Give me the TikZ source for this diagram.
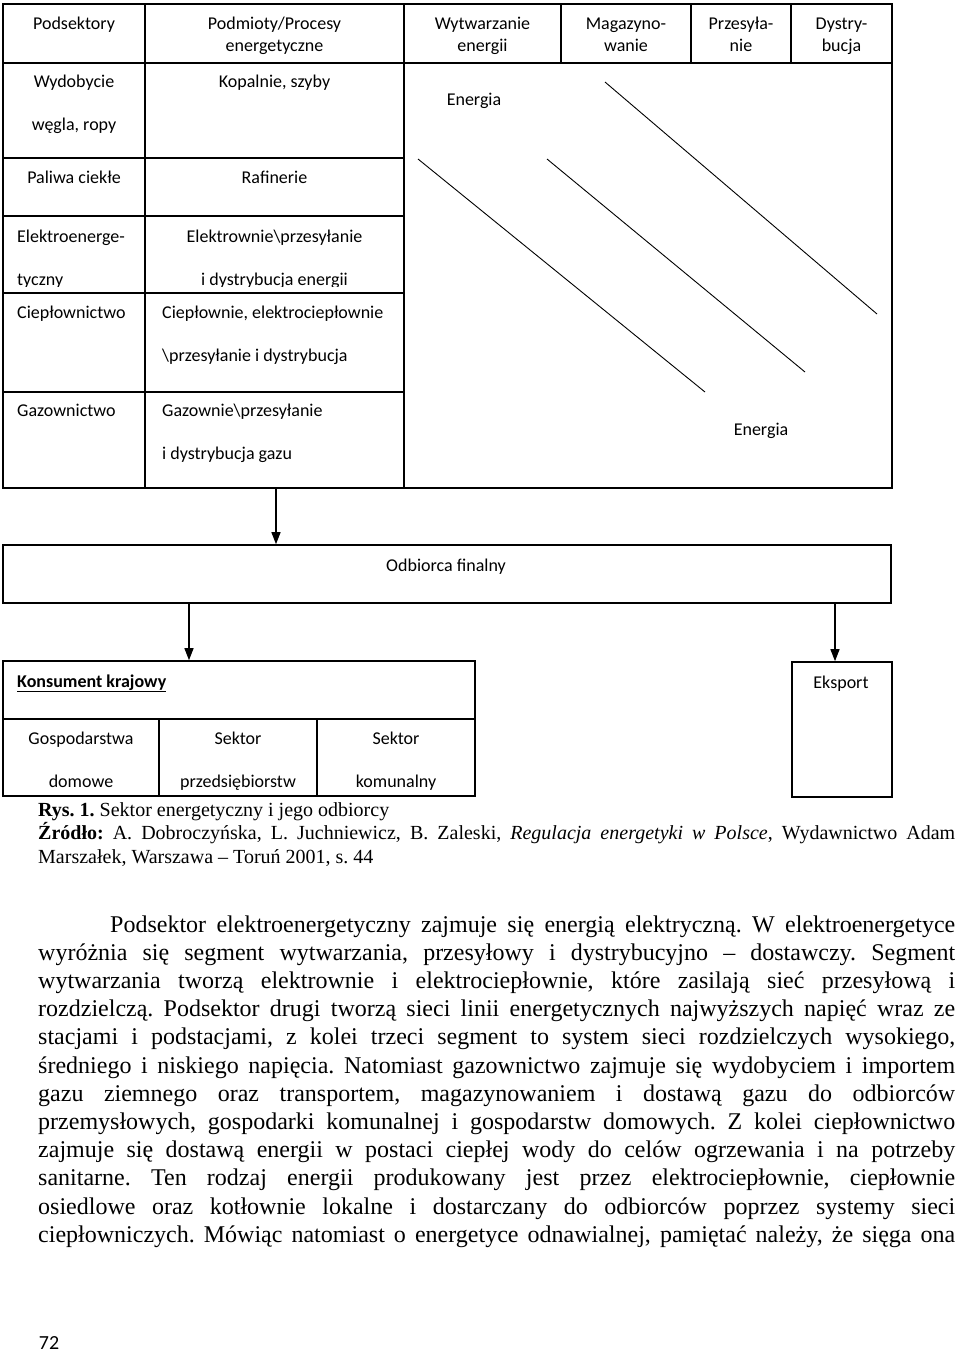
\documentclass[tikz,border=0pt]{standalone}
\usepackage{fontspec}
\setmainfont{Liberation Serif}
\newfontfamily\calibri{Carlito}
\usetikzlibrary{arrows.meta}
\frenchspacing

\begin{document}
\begin{tikzpicture}[x=1pt,y=-1pt,
    ramka/.style={draw=black,line width=1.6pt,inner sep=0pt},
    komorka/.style={font=\calibri\fontsize{18}{22}\selectfont,inner sep=0pt,anchor=base,align=center},
    rzadko/.style={font=\calibri\fontsize{18}{43}\selectfont},
    skos/.style={line width=0.9pt},
    strzalka/.style={-{Triangle[length=12pt,width=9pt]},line width=1.2pt}]
        \fill[white] (0,0) rectangle (960,1353);
        \useasboundingbox (0,0) rectangle (960,1353);

        % sector table (two-line cells sit on their last baseline)
        \node[ramka,minimum width=889pt,minimum height=484pt] (tabela) at (447.5,246) {};
        \draw[ramka] (3,63) -- (892,63);
        \foreach \x in {145,404} \draw[ramka] (\x,4) -- (\x,488);
        \foreach \x in {561,691,791} \draw[ramka] (\x,4) -- (\x,63);
        \foreach \y in {158,216,293,392} \draw[ramka] (3,\y) -- (404,\y);

        \node[komorka] (podsektory) at (74,29) {Podsektory};
        \node[komorka] (podmioty) at (274.5,51) {Podmioty/Procesy\\energetyczne};
        \node[komorka] (wytwarzanie) at (482.5,51) {Wytwarzanie\\energii};
        \node[komorka] (magazyn) at (626,51) {Magazyno-\\wanie};
        \node[komorka] (przesyl) at (741,51) {Przesyła-\\nie};
        \node[komorka] (dystryb) at (841.5,51) {Dystry-\\bucja};

        \node[komorka,rzadko] (wydobycie) at (74,130) {Wydobycie\\węgla, ropy};
        \node[komorka] (kopalnie) at (274.5,87) {Kopalnie, szyby};
        \node[komorka] (paliwa) at (74,183) {Paliwa ciekłe};
        \node[komorka] (rafinerie) at (274.5,183) {Rafinerie};
        \begin{scope}
            \clip (3,216) rectangle (404,286);
            \node[komorka,rzadko,anchor=base west,align=left] (elektro) at (17,285) {Elektroenerge-\\tyczny};
            \node[komorka,rzadko] (elektrownie) at (274.5,285) {Elektrownie\textbackslash przesyłanie\\i dystrybucja energii};
        \end{scope}
        \node[komorka,anchor=base west] (cieplo) at (17,318) {Ciepłownictwo};
        \node[komorka,rzadko,anchor=base west,align=left] (cieplownie) at (162,361) {Ciepłownie, elektrociepłownie\\\textbackslash przesyłanie i dystrybucja};
        \node[komorka,anchor=base west] (gaz) at (17,416) {Gazownictwo};
        \node[komorka,rzadko,anchor=base west,align=left] (gazownie) at (162,459) {Gazownie\textbackslash przesyłanie\\i dystrybucja gazu};

        % energy flow
        \node[komorka] (energia1) at (474,105) {Energia};
        \node[komorka] (energia2) at (761,435) {Energia};
        \draw[skos] (418,159) -- (705,392);
        \draw[skos] (547,159) -- (805,372);
        \draw[skos] (605,82) -- (877,314);

        % receivers
        \node[ramka,minimum width=888pt,minimum height=58pt] (odbiorca) at (447,574) {};
        \node[komorka] (odbiorcatxt) at (446,571) {Odbiorca finalny};
        \node[ramka,minimum width=472pt,minimum height=135pt] (konsument) at (239,728.5) {};
        \draw[ramka] (3,719) -- (475,719);
        \foreach \x in {159,317} \draw[ramka] (\x,719) -- (\x,796);
        \node[ramka,minimum width=100pt,minimum height=135pt] (eksport) at (842,729.5) {};

        \node[komorka,anchor=base west] (krajowy) at (17,687) {\underline{\textbf{Konsument krajowy}}};
        \node[komorka] (eksporttxt) at (841,688) {Eksport};
        \node[komorka,rzadko] (gospodarstwa) at (81,787) {Gospodarstwa\\domowe};
        \node[komorka,rzadko] (przedsieb) at (238,787) {Sektor\\przedsiębiorstw};
        \node[komorka,rzadko] (komunalny) at (396,787) {Sektor\\komunalny};

        \coordinate (s1) at (276,0);
        \coordinate (s2) at (189,0);
        \coordinate (s3) at (835,0);
        \draw[strzalka] (tabela.south -| s1) -- (odbiorca.north -| s1);
        \draw[strzalka] (odbiorca.south -| s2) -- (konsument.north -| s2);
        \draw[strzalka] (odbiorca.south -| s3) -- (eksport.north -| s3);

        % caption and text
        \node[anchor=base west,inner sep=0pt,text width=917pt,align=justify,font=\fontsize{20}{23.5}\selectfont] (podpis) at (38,816)
            {\tolerance=10000\hbadness=10000
             \textbf{Rys. 1.} Sektor energetyczny i jego odbiorcy\\
             \textbf{Źródło:} A. Dobroczyńska, L. Juchniewicz, B. Zaleski, \textit{Regulacja energetyki w Polsce}, Wydawnictwo Adam\linebreak
             Marszałek, Warszawa – Toruń 2001, s. 44};
        \node[anchor=base west,inner sep=0pt,text width=917pt,align=justify,font=\fontsize{24}{28.2}\selectfont] (tekst) at (38,932)
            {\tolerance=10000\hbadness=10000\parfillskip=0pt
             \hspace*{72pt}Podsektor elektroenergetyczny zajmuje się energią elektryczną. W elektroenergetyce\linebreak
             wyróżnia się segment wytwarzania, przesyłowy i dystrybucyjno – dostawczy. Segment\linebreak
             wytwarzania tworzą elektrownie i elektrociepłownie, które zasilają sieć przesyłową i\linebreak
             rozdzielczą. Podsektor drugi tworzą sieci linii energetycznych najwyższych napięć wraz ze\linebreak
             stacjami i podstacjami, z kolei trzeci segment to system sieci rozdzielczych wysokiego,\linebreak
             średniego i niskiego napięcia. Natomiast gazownictwo zajmuje się wydobyciem i importem\linebreak
             gazu ziemnego oraz transportem, magazynowaniem i dostawą gazu do odbiorców\linebreak
             przemysłowych, gospodarki komunalnej i gospodarstw domowych. Z kolei ciepłownictwo\linebreak
             zajmuje się dostawą energii w postaci ciepłej wody do celów ogrzewania i na potrzeby\linebreak
             sanitarne. Ten rodzaj energii produkowany jest przez elektrociepłownie, ciepłownie\linebreak
             osiedlowe oraz kotłownie lokalne i dostarczany do odbiorców poprzez systemy sieci\linebreak
             ciepłowniczych. Mówiąc natomiast o energetyce odnawialnej, pamiętać należy, że sięga ona\par};
        \node[anchor=base,inner sep=0pt,font=\calibri\fontsize{20}{24}\selectfont] (strona) at (49,1349) {72};
    \end{tikzpicture}
\end{document}
